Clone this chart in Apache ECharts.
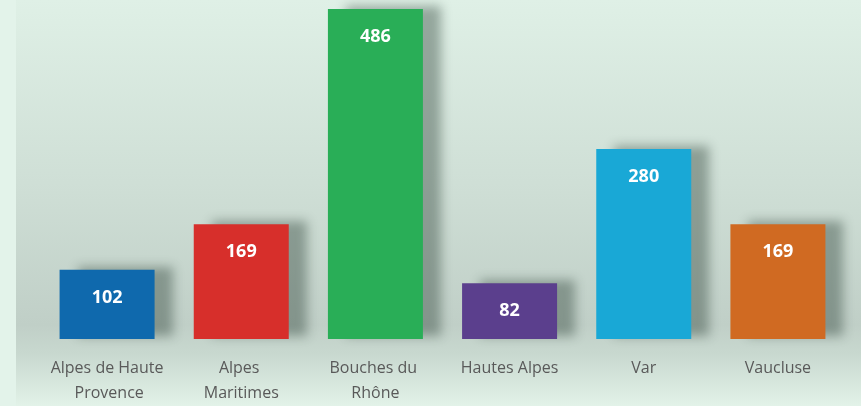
<!DOCTYPE html>
<html>
<head>
    <meta charset="utf-8">
    <title>Départements</title>
    <script src="https://cdn.jsdelivr.net/npm/echarts@6/dist/echarts.min.js"></script>
    <style>
        html, body { margin: 0; padding: 0; background: #e3f3ea; }
        #myChart { position: absolute; left: 16px; top: 0; width: 845px; height: 406px; }
    </style>
</head>
<body>
    <div id="myChart"></div>
    <script>
        var categories = ['Alpes de Haute Provence', 'Alpes Maritimes', 'Bouches du Rhône', 'Hautes Alpes', 'Var', 'Vaucluse'];
        var values = [102, 169, 486, 82, 280, 169];
        var barColors = ['#0f69ad', '#d72f2b', '#29ae57', '#5b3f8d', '#19a8d6', '#d06a22'];

        var myChart = echarts.init(document.getElementById('myChart'));

        var option = {
            backgroundColor: {
                type: 'linear', x: 0, y: 0, x2: 0, y2: 1,
                colorStops: [
                    { offset: 0, color: '#dff0e6' },
                    { offset: 0.45, color: '#cfdfd6' },
                    { offset: 0.8, color: '#c0cfc7' },
                    { offset: 0.87, color: '#c8d8cf' },
                    { offset: 1, color: '#e2f2e8' }
                ]
            },
            grid: { left: 24, right: 16, top: 9, bottom: 66 },
            xAxis: {
                type: 'category',
                data: categories,
                axisLine: { show: false },
                axisTick: { show: false },
                axisLabel: {
                    interval: 0,
                    margin: 17,
                    color: '#595959',
                    fontFamily: 'Open Sans',
                    fontSize: 16,
                    lineHeight: 25,
                    width: 116,
                    overflow: 'break'
                }
            },
            yAxis: {
                type: 'value',
                min: 0,
                max: 486,
                show: false,
                splitLine: { show: false }
            },
            series: [{
                type: 'bar',
                barWidth: 95,
                data: values.map(function (v, i) {
                    return { value: v, itemStyle: { color: barColors[i] } };
                }),
                itemStyle: {
                    shadowColor: 'rgba(40, 60, 50, 0.4)',
                    shadowBlur: 10,
                    shadowOffsetX: 18,
                    shadowOffsetY: -3
                },
                label: {
                    show: true,
                    position: 'insideTop',
                    distance: 19,
                    color: '#ffffff',
                    fontFamily: 'Open Sans',
                    fontWeight: 'bold',
                    fontSize: 18
                }
            }]
        };
        myChart.setOption(option);
    </script>
</body>
</html>
